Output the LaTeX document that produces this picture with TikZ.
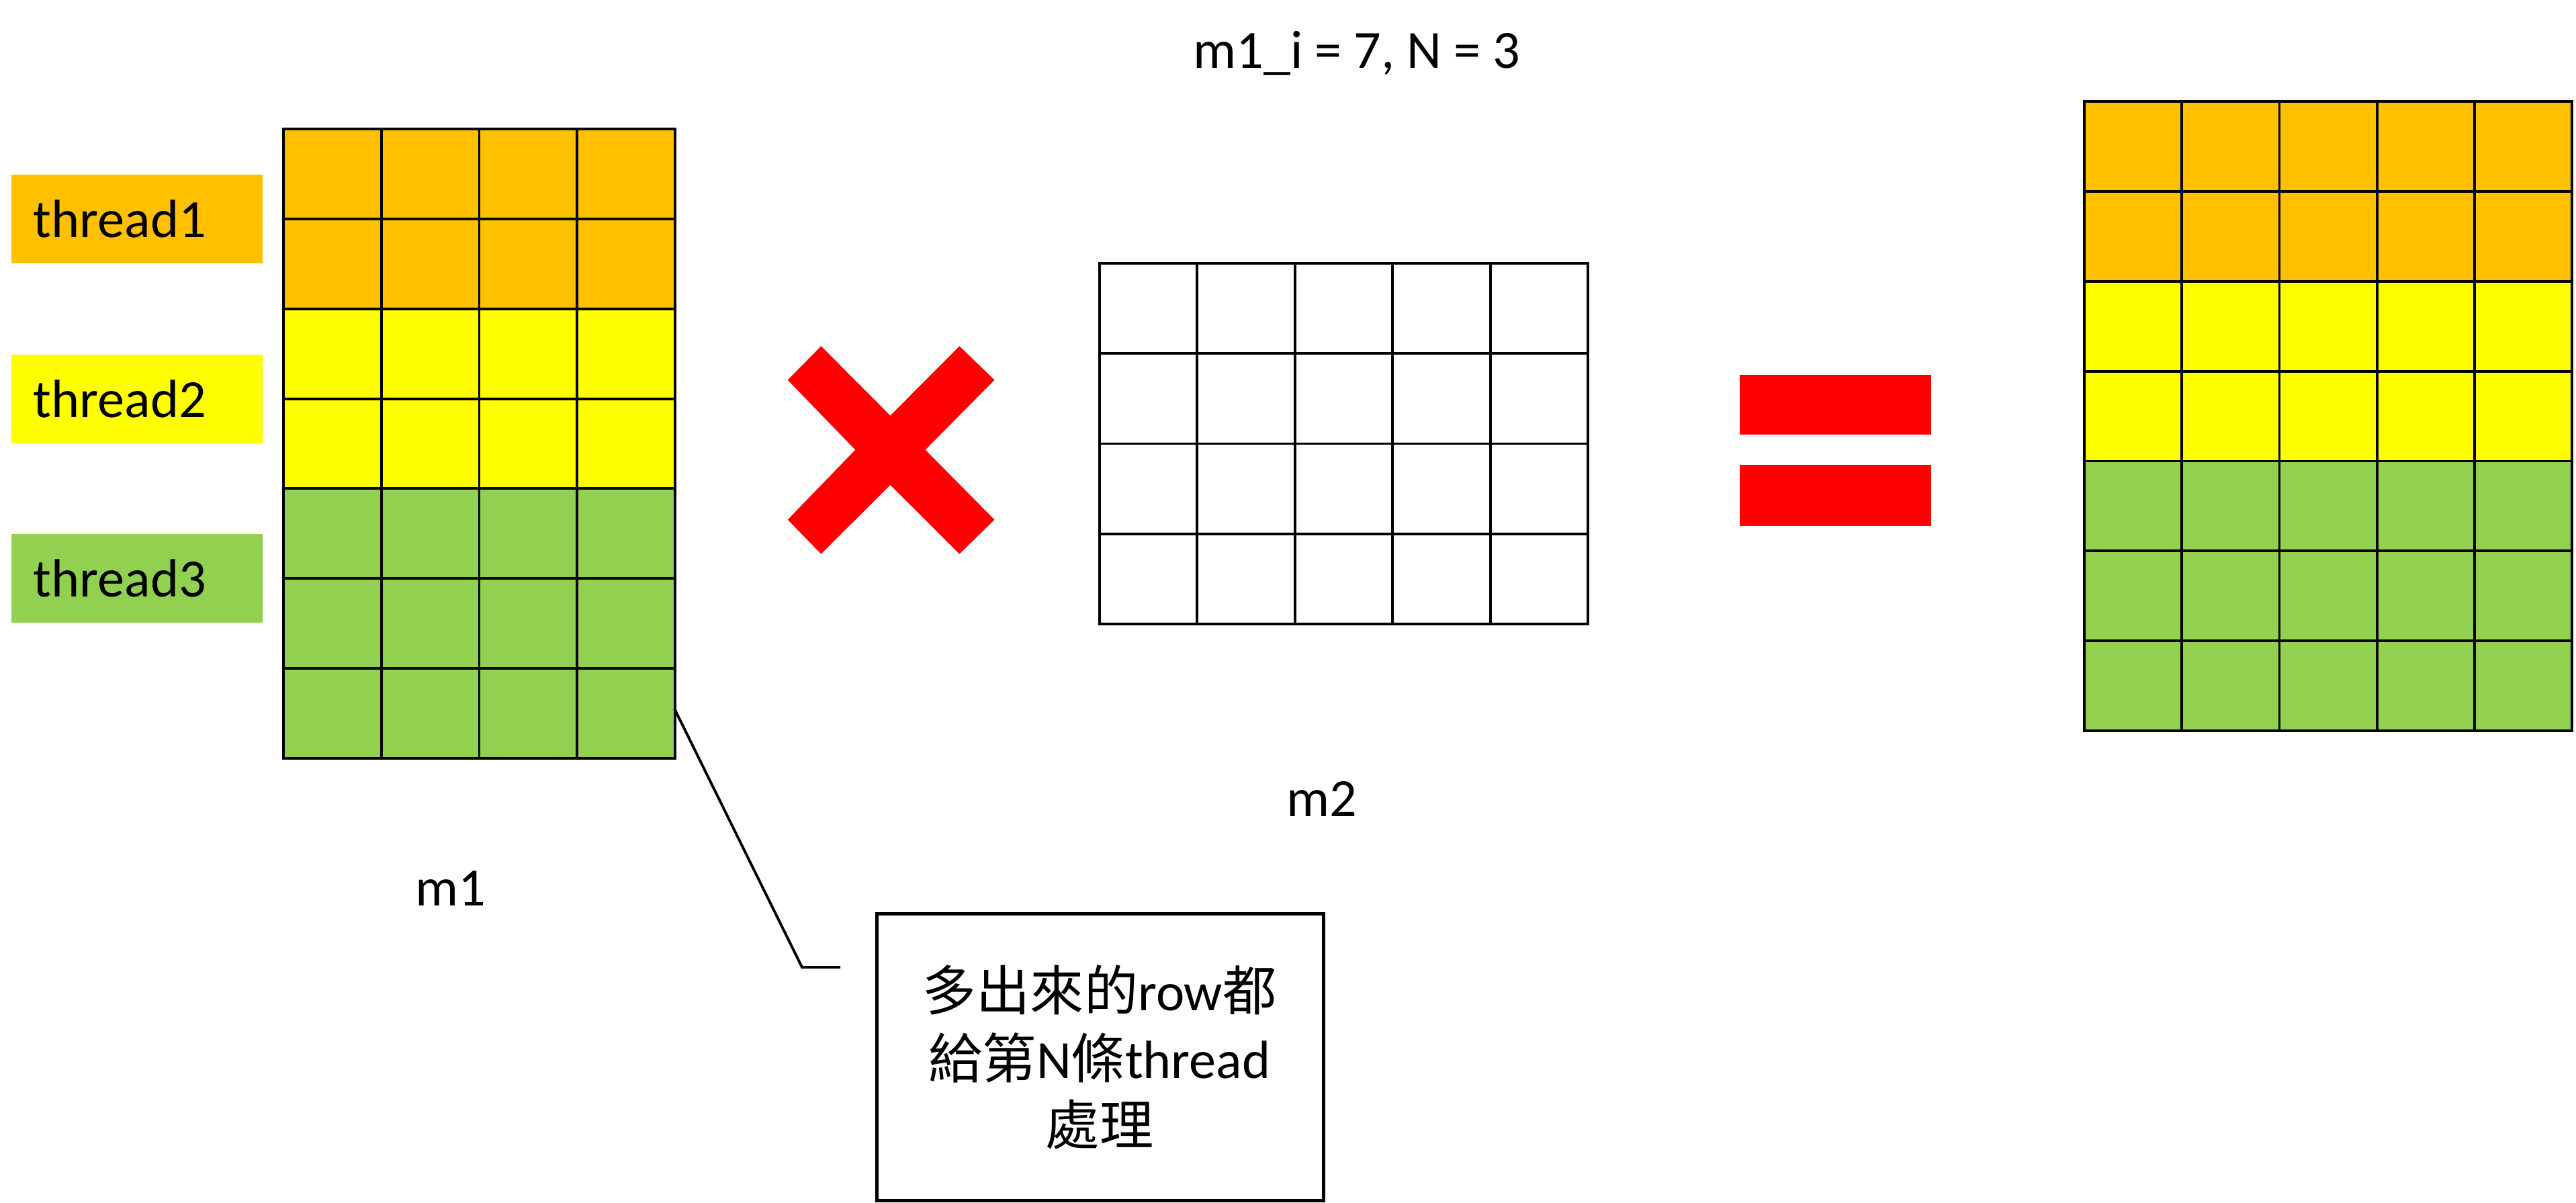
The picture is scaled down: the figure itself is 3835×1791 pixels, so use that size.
\documentclass[tikz,border=0pt]{standalone}
\usepackage{fontspec}
\setmainfont{Carlito}
\newfontfamily\cjk{Noto Sans CJK TC}
\definecolor{orng}{HTML}{FFC000}
\definecolor{yel}{HTML}{FFFF00}
\definecolor{grn}{HTML}{92D050}
\definecolor{xred}{HTML}{FF0000}
\begin{document}
\begin{tikzpicture}[x=0.01cm,y=-0.01cm,
  gridline/.style={draw=black,line width=1.1pt},
  lbl/.style={inner sep=0pt,font=\fontsize{22.8}{27}\selectfont},
  threadbox/.style={inner xsep=0.33cm,inner ysep=0pt,minimum width=3.74cm,minimum height=1.32cm,text width=3.08cm,align=left,font=\fontsize{22.8}{27}\selectfont},
  notebox/.style={draw=black,line width=1.4pt,minimum width=6.64cm,minimum height=4.26cm,inner sep=0pt},
  leader/.style={draw=black,line width=1.1pt}]
\useasboundingbox (0,0) rectangle (3835,1791);

% title
\node[lbl,anchor=base] (title) at (2020,102) {m1\_i = 7, N = 3};

% thread labels
\node[threadbox,fill=orng] (t1) at (204,326) {thread1};
\node[threadbox,fill=yel] (t2) at (204,594) {thread2};
\node[threadbox,fill=grn] (t3) at (204,861) {thread3};

% m1 grid (4 x 7)
\fill[orng] (422,192) rectangle (1005,460);
\fill[yel] (422,460) rectangle (1005,727);
\fill[grn] (422,727) rectangle (1005,1129);
\foreach \i in {1,...,3} \draw[gridline] ({422+145.75*\i},192) -- ({422+145.75*\i},1129);
\foreach \j in {1,...,6} \draw[gridline] (422,{192+133.857*\j}) -- (1005,{192+133.857*\j});
\draw[gridline] (422,192) rectangle (1005,1129);
\coordinate (m1edge) at (1004,1055);
\node[lbl,anchor=base] (m1) at (671,1348) {m1};

% multiply sign
\fill[xred] (1222.4,515.3) -- (1325.4,618.7) -- (1428.4,515.3) -- (1480.5,565.7)
  -- (1377.5,669.7) -- (1480.5,773.7) -- (1428.4,824.7) -- (1325.4,722.0)
  -- (1222.4,824.7) -- (1172.7,773.7) -- (1273.3,669.7) -- (1172.7,565.7) -- cycle;

% m2 grid (5 x 4)
\foreach \i in {1,...,4} \draw[gridline] ({1637+145.4*\i},392) -- ({1637+145.4*\i},929);
\foreach \j in {1,...,3} \draw[gridline] (1637,{392+134.25*\j}) -- (2364,{392+134.25*\j});
\draw[gridline] (1637,392) rectangle (2364,929);
\node[lbl,anchor=base] (m2) at (1968,1215) {m2};

% equals sign
\fill[xred] (2590,558) rectangle (2875,647);
\fill[xred] (2590,692) rectangle (2875,783);

% result grid (5 x 7)
\fill[orng] (3103,151) rectangle (3829,419);
\fill[yel] (3103,419) rectangle (3829,686);
\fill[grn] (3103,686) rectangle (3829,1088);
\foreach \i in {1,...,4} \draw[gridline] ({3103+145.2*\i},151) -- ({3103+145.2*\i},1088);
\foreach \j in {1,...,6} \draw[gridline] (3103,{151+133.86*\j}) -- (3829,{151+133.86*\j});
\draw[gridline] (3103,151) rectangle (3829,1088);

% note box with leader
\node[notebox] (note) at (1638,1574) {};
\node[lbl,anchor=base] (n1) at (1637,1504) {{\cjk 多出來的}row{\cjk 都}};
\node[lbl,anchor=base] (n2) at (1637,1605) {{\cjk 給第}N{\cjk 條}thread};
\node[lbl,anchor=base] (n3) at (1637,1704) {{\cjk 處理}};
\coordinate (bend) at (1194,1440);
\coordinate (lend) at (1251,1440);
\draw[leader] (m1edge) -- (bend) -- (lend);
\end{tikzpicture}
\end{document}
